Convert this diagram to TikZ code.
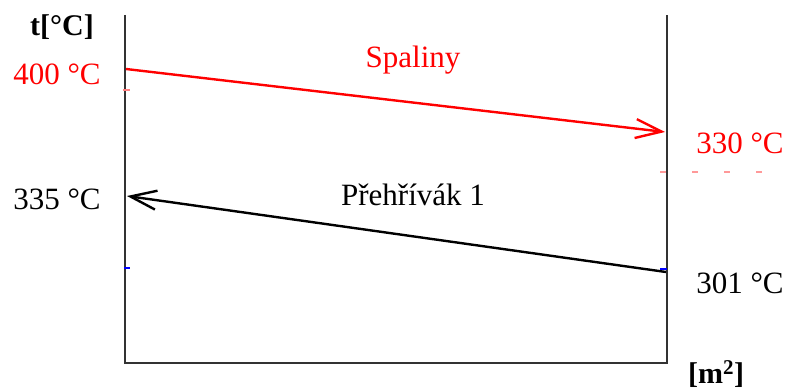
\documentclass[tikz,border=0pt]{standalone}
\usepackage{fontspec}
\setmainfont{Liberation Serif}
\usetikzlibrary{arrows.meta}
\tikzset{
  osa/.style={line width=2.4pt,color=black!80},
  sipka/.style={line width=2.4pt,-{Straight Barb[length=26pt,width=19pt,line width=2.4pt]}},
  popis/.style={font=\fontsize{31}{36}\selectfont,inner sep=0pt}
}
\begin{document}
\begin{tikzpicture}[x=1pt,y=-1pt]
\useasboundingbox (0,0) rectangle (787,390);
% osy
\coordinate (lt) at (125,15);
\coordinate (lb) at (125,363);
\coordinate (rt) at (667,15);
\coordinate (rb) at (667,363);
\draw[osa] (lt) -- (lb) -- (rb) -- (rt);
% konce sipek
\coordinate (spin) at (126,69);
\coordinate (spout) at (665,132);
\coordinate (phin) at (666,272);
\coordinate (phout) at (127,196);
\draw[sipka,red] (spin) -- (spout);
\draw[sipka,black] (phin) -- (phout);
% zbytky znacek
\draw[red!50,line width=1.5pt] (123,90) -- (130,90);
\draw[red!40,line width=1.2pt,dash pattern=on 6pt off 26pt] (660,172) -- (765,172);
\draw[blue,line width=1.5pt] (124,268) -- (130,268);
\draw[blue,line width=1.5pt] (660,269) -- (667,269);
% popisky
\node[popis,font=\fontsize{30}{36}\selectfont\bfseries] (tosa) at (62,27) {t[°C]};
\node[popis,red] (t400) at (57,74) {400 °C};
\node[popis,red] (spal) at (413,60) {Spaliny};
\node[popis,red] (t330) at (740,143) {330 °C};
\node[popis] (t335) at (57,199) {335 °C};
\node[popis] (preh) at (413,195) {Přehřívák 1};
\node[popis] (t301) at (740,283) {301 °C};
\node[popis,font=\fontsize{30}{36}\selectfont\bfseries] (mosa) at (716,374) {[m\textsuperscript{2}]};
\end{tikzpicture}
\end{document}
